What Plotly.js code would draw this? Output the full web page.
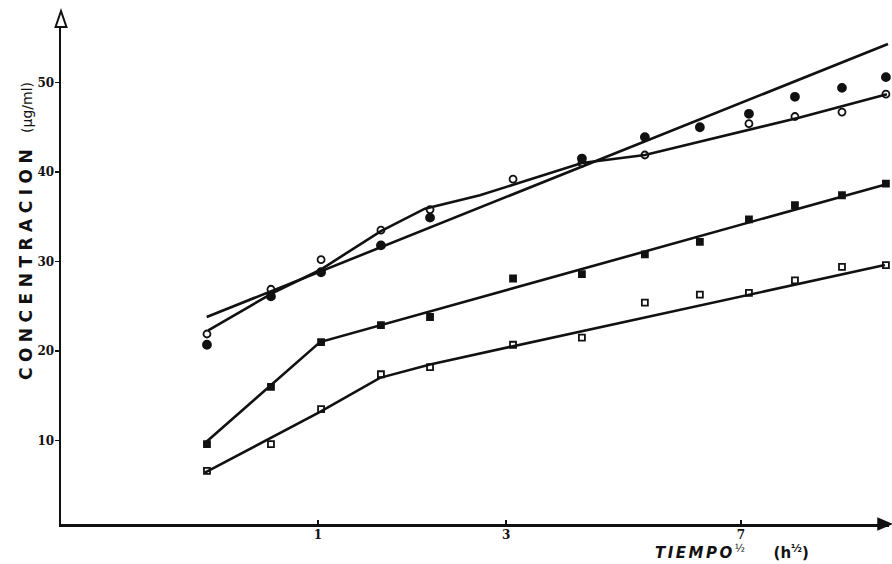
<!DOCTYPE html>
<html>
<head>
<meta charset="utf-8">
<script src="https://cdn.plot.ly/plotly-3.0.1.min.js"></script>
<style>html,body{margin:0;padding:0;background:#fff;}</style>
</head>
<body>
<div id="chart" style="width:892px;height:564px;"></div>
<script>
// x values: square root of time (h^1/2)
const TIME_SQRT = [0.568, 0.817, 1.012, 1.245, 1.436, 1.759, 2.027, 2.272, 2.486, 2.677, 2.856, 3.039, 3.210];
const TICK_HOURS = [1, 3, 7];
const TICK_LABELS = ['1', '3', '7'];
const Y_TICKS = [10, 20, 30, 40, 50];

// measured concentrations (µg/ml)
const FILLED_CIRCLES = [20.7, 26.1, 28.8, 31.8, 34.9, null, 41.5, 43.9, 45.0, 46.5, 48.4, 49.4, 50.6];
const OPEN_CIRCLES   = [21.9, 26.9, 30.2, 33.5, 35.8, 39.2, 41.0, 41.9, null, 45.4, 46.2, 46.7, 48.7];
const FILLED_SQUARES = [9.6, 16.0, 21.0, 22.9, 23.8, 28.1, 28.6, 30.8, 32.2, 34.7, 36.3, 37.4, 38.7];
const OPEN_SQUARES   = [6.6, 9.6, 13.5, 17.4, 18.2, 20.7, 21.5, 25.4, 26.3, 26.5, 27.9, 29.4, 29.6];

// drawn lines (vertices)
const LINE_A_X = [0.567, 3.218];
const LINE_A_Y = [23.8, 54.3];
const LINE_B_X = [0.573, 0.825, 1.008, 1.245, 1.416, 1.630, 2.027, 2.272, 2.875, 3.214];
const LINE_B_Y = [22.3, 26.5, 29.05, 33.4, 35.9, 37.4, 41.0, 41.9, 46.1, 48.7];
const LINE_C_X = [0.556, 1.008, 3.219];
const LINE_C_Y = [9.6, 21.0, 38.7];
const LINE_D_X = [0.560, 1.008, 1.241, 1.436, 3.206];
const LINE_D_Y = [6.4, 13.2, 17.0, 18.5, 29.6];

const INK = '#111';
function line(x, y) {
  return {x: x, y: y, type: 'scatter', mode: 'lines', line: {color: INK, width: 2.6}, hoverinfo: 'skip', showlegend: false};
}
function pts(y, symbol, size) {
  return {x: TIME_SQRT, y: y, type: 'scatter', mode: 'markers', cliponaxis: false, showlegend: false,
    marker: {symbol: symbol, size: size, color: INK, line: {color: INK, width: 1.8}}};
}

const data = [
  line(LINE_A_X, LINE_A_Y),
  line(LINE_B_X, LINE_B_Y),
  line(LINE_C_X, LINE_C_Y),
  line(LINE_D_X, LINE_D_Y),
  pts(FILLED_CIRCLES, 'circle', 8),
  pts(OPEN_CIRCLES, 'circle-open', 7),
  pts(FILLED_SQUARES, 'square', 6),
  pts(OPEN_SQUARES, 'square-open', 6)
];

const tickFont = {family: 'DejaVu Serif', size: 12, color: INK, weight: 'bold'};
const layout = {
  width: 892, height: 564,
  margin: {l: 61, r: 3, t: 22, b: 40},
  paper_bgcolor: '#fff', plot_bgcolor: '#fff',
  showlegend: false,
  xaxis: {
    range: [0, 3.222], showgrid: false, zeroline: false,
    showline: true, linecolor: INK, linewidth: 2.5,
    ticks: 'inside', ticklen: 4, tickwidth: 1.5, tickcolor: INK,
    ticklabelstandoff: -2,
    tickvals: TICK_HOURS.map(Math.sqrt), ticktext: TICK_LABELS,
    tickfont: tickFont
  },
  yaxis: {
    range: [0.67, 56.76], showgrid: false, zeroline: false,
    showline: true, linecolor: INK, linewidth: 2.5,
    ticks: 'outside', ticklen: 4, tickwidth: 1.5, tickcolor: INK,
    ticklabelstandoff: -2,
    tickvals: Y_TICKS, tickfont: tickFont
  },
  shapes: [
    {type: 'path', xref: 'paper', yref: 'paper',
     path: 'M 0 1.0219 L -0.0066 0.990 L 0.0066 0.990 Z',
     line: {color: INK, width: 2}, fillcolor: '#fff'},
    {type: 'path', xref: 'paper', yref: 'paper',
     path: 'M 1.0024 0 L 0.9867 0.0110 L 0.9867 -0.0110 Z',
     line: {color: INK, width: 1.5}, fillcolor: INK}
  ],
  annotations: [
    {xref: 'paper', yref: 'paper', x: -0.0420, y: 0.5840, xanchor: 'center', yanchor: 'middle',
     textangle: -90, showarrow: false,
     text: '<span style="letter-spacing:5.5px"><b>CONCENTRACION</b></span>  <span style="font-size:14px">(μg/ml)</span>',
     font: {family: 'DejaVu Sans', size: 17, color: INK}},
    {xref: 'paper', yref: 'paper', x: 0.7150, y: -0.0560, xanchor: 'left', yanchor: 'middle',
     showarrow: false,
     text: '<span style="letter-spacing:2.5px"><b><i>TIEMPO</i></b></span><sup>½</sup>      <b>(h<sup>½</sup>)</b>',
     font: {family: 'DejaVu Sans', size: 15, color: INK}}
  ]
};

Plotly.newPlot('chart', data, layout, {staticPlot: true, displayModeBar: false});
</script>
</body>
</html>
